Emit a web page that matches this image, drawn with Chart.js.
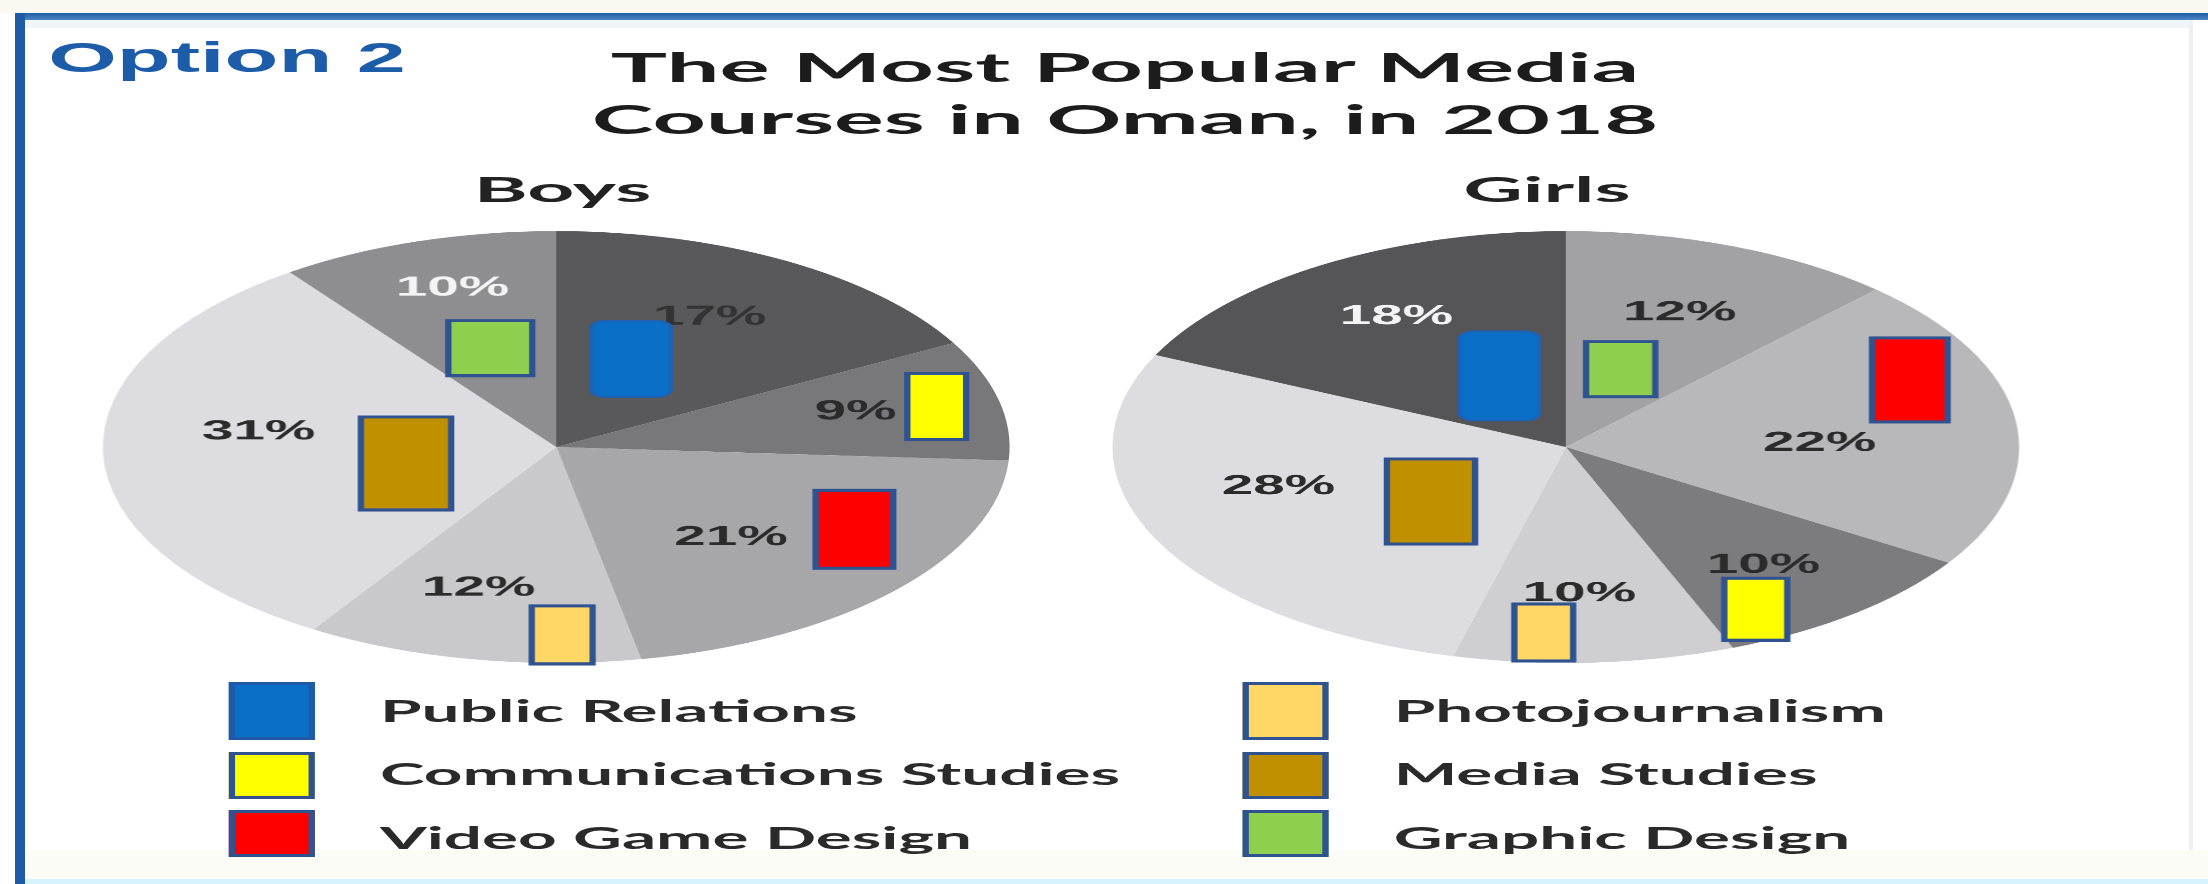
<!DOCTYPE html>
<html>
<head>
<meta charset="utf-8">
<script src="https://cdn.jsdelivr.net/npm/chart.js@4.4.1/dist/chart.umd.min.js"></script>
<style>
  html, body { margin: 0; padding: 0; background: #fff; }
  #page { position: relative; width: 2208px; height: 884px; overflow: hidden; background: #fff; }
  .deco { position: absolute; }
  /* the source picture is stretched sideways, so the whole drawing is too */
  #stage { position: absolute; left: 0; top: 0; width: 1052px; height: 884px;
           transform-origin: 0 0; transform: scaleX(2.0989);
           font-family: Lato, "Open Sans", sans-serif; color: #222; }
  .txt { position: absolute; white-space: nowrap; line-height: 1; font-weight: 700; }
  .mid { transform-origin: 50% 50%; }
  canvas { position: absolute; }
  .key { position: absolute; box-sizing: border-box; border: 3px solid #2f5290; }
</style>
</head>
<body>
<div id="page">
  <div class="deco" style="left:0;top:0;width:2208px;height:13px;background:#faf8f1"></div>
  <div class="deco" style="left:15px;top:13px;width:2193px;height:7px;background:linear-gradient(#1f5ca6,#4f86c2)"></div>
  <div class="deco" style="left:25px;top:20px;width:2165px;height:8px;background:#eef5fb"></div>
  <div class="deco" style="left:15px;top:13px;width:10px;height:871px;background:#1e5aa5"></div>
  <div class="deco" style="left:2189px;top:20px;width:4px;height:864px;background:#eef1f3"></div>
  <div class="deco" style="left:25px;top:850px;width:2183px;height:29px;background:#fcfcf7"></div>
  <div class="deco" style="left:25px;top:879px;width:2183px;height:5px;background:#d6f3fb"></div>

  <div id="stage">
    <div class="txt" style="left:23px;top:37px;font-family:'Liberation Sans',Arial,sans-serif;font-size:42px;color:#1c5ca8">Option 2</div>
    <div class="txt" style="left:536px;top:47px;font-size:40px;transform:translateX(-50%) scaleX(1.12);color:#1c1c1c">The Most Popular Media</div>
    <div class="txt" style="left:536px;top:99px;font-size:40px;transform:translateX(-50%) scaleX(1.11);color:#1c1c1c">Courses in Oman, in 2018</div>
    <div class="txt" style="left:268px;top:172px;font-size:34px;transform:translateX(-50%) scaleX(1.15);color:#222">Boys</div>
    <div class="txt" style="left:737px;top:172px;font-size:34px;transform:translateX(-50%) scaleX(1.15);color:#222">Girls</div>

    <canvas id="boysChart" width="460" height="460" style="left:35px;top:217px"></canvas>
    <canvas id="girlsChart" width="460" height="460" style="left:516px;top:217px"></canvas>

    <div id="legend"></div>
  </div>
</div>

<script>
// Most popular media courses in Oman, 2018 (percent of students)
const boysCourses = ["Public Relations", "Communications Studies", "Video Game Design",
                     "Photojournalism", "Media Studies", "Graphic Design"];
const boysShares = [17, 9, 21, 12, 31, 10];

const girlsCourses = ["Graphic Design", "Video Game Design", "Communications Studies",
                      "Photojournalism", "Media Studies", "Public Relations"];
const girlsShares = [12, 22, 10, 10, 28, 18];

const legendCourses = ["Public Relations", "Communications Studies", "Video Game Design",
                       "Photojournalism", "Media Studies", "Graphic Design"];

// colour key for each course
const courseColors = {
  "Public Relations": "#0a6fc6",
  "Communications Studies": "#ffff00",
  "Video Game Design": "#ff0000",
  "Photojournalism": "#ffd766",
  "Media Studies": "#c09000",
  "Graphic Design": "#8fcf50"
};

// grey slices, in slice order
const boysGreys = ["#59595c", "#78787b", "#a7a7aa", "#c9c9cc", "#dddce1", "#8e8e91"];
const girlsGreys = ["#a2a2a5", "#b8b8bb", "#7c7c7f", "#cfcfd2", "#dddce1", "#555558"];

// where the label and colour box sit inside each slice:
// [fraction across the slice angle, fraction of the radius]
const boysLabelPos = [[0.48, 0.69], [0.46, 0.68], [0.58, 0.57], [0.59, 0.675], [0.57, 0.66], [0.52, 0.77]];
const boysBoxPos = [[0.36, 0.44], [0.50, 0.86], [0.35, 0.76], [0.23, 0.87], [0.40, 0.34], [0.51, 0.48]];
const boysBoxSize = [[38, 76], [28, 66], [37, 78], [29, 58], [43, 93], [40, 55]];
const boysLabelColors = ["#333", "#2b2b2b", "#2b2b2b", "#2b2b2b", "#2b2b2b", "#f4f4f4"];

const girlsLabelPos = [[0.51, 0.67], [0.57, 0.56], [0.53, 0.70], [0.53, 0.68], [0.59, 0.66], [0.51, 0.71]];
const girlsBoxPos = [[0.43, 0.38], [0.31, 0.82], [0.79, 0.86], [0.69, 0.86], [0.35, 0.39], [0.63, 0.36]];
const girlsBoxSize = [[33, 55], [36, 84], [30, 62], [28, 57], [42, 85], [38, 89]];
const girlsLabelColors = ["#2b2b2b", "#2b2b2b", "#2b2b2b", "#2b2b2b", "#2b2b2b", "#f4f4f4"];

// draws the percent text and the coloured course box inside every slice
const sliceMarkers = {
  id: "sliceMarkers",
  afterDatasetsDraw(chart, args, opts) {
    const ctx = chart.ctx;
    const meta = chart.getDatasetMeta(0);
    const values = chart.data.datasets[0].data;
    const labels = chart.data.labels;

    meta.data.forEach((arc, i) => {
      const p = arc.getProps(["x", "y", "startAngle", "endAngle", "outerRadius"], true);
      const at = (pos) => {
        const a = p.startAngle + pos[0] * (p.endAngle - p.startAngle);
        const r = pos[1] * p.outerRadius;
        return [p.x + Math.cos(a) * r, p.y + Math.sin(a) * r];
      };

      ctx.save();
      ctx.font = "bold 27px 'Liberation Sans', Arial, sans-serif";
      ctx.textAlign = "center";
      ctx.textBaseline = "middle";
      ctx.fillStyle = opts.labelColors[i];
      const [lx, ly] = at(opts.labelPos[i]);
      ctx.fillText(values[i] + "%", lx, ly);

      const [bx, by] = at(opts.boxPos[i]);
      const [w, h] = opts.boxSize[i];
      const color = courseColors[labels[i]];
      ctx.beginPath();
      if (labels[i] === "Public Relations") {
        ctx.roundRect(bx - w / 2, by - h / 2, w, h, 7);
        ctx.fillStyle = color;
        ctx.fill();
        ctx.lineWidth = 2;
        ctx.strokeStyle = "#1f62b4";
        ctx.stroke();
      } else {
        ctx.rect(bx - w / 2, by - h / 2, w, h);
        ctx.fillStyle = color;
        ctx.fill();
        ctx.lineWidth = 3;
        ctx.strokeStyle = "#2f5290";
        ctx.stroke();
      }
      ctx.restore();
    });
  }
};

function makePie(id, courses, shares, greys, labelPos, boxPos, boxSize, labelColors) {
  const ctx = document.getElementById(id).getContext("2d");
  return new Chart(ctx, {
    type: "pie",
    data: {
      labels: courses,
      datasets: [{
        data: shares,
        backgroundColor: greys,
        borderWidth: 0
      }]
    },
    options: {
      responsive: false,
      animation: false,
      devicePixelRatio: 2.1,
      radius: 216,
      layout: { padding: 0 },
      plugins: {
        legend: { display: false },
        tooltip: { enabled: false },
        sliceMarkers: { labelPos, boxPos, boxSize, labelColors }
      }
    },
    plugins: [sliceMarkers]
  });
}

makePie("boysChart", boysCourses, boysShares, boysGreys,
        boysLabelPos, boysBoxPos, boysBoxSize, boysLabelColors);
makePie("girlsChart", girlsCourses, girlsShares, girlsGreys,
        girlsLabelPos, girlsBoxPos, girlsBoxSize, girlsLabelColors);

// two-column key under the pies
const legend = document.getElementById("legend");
const colX = [109, 592];
const textX = [181, 664];
const rowTop = [682, 752, 810];
const rowH = [58, 47, 47];
const rowBaseline = [722, 785, 849];
legendCourses.forEach((name, i) => {
  const col = Math.floor(i / 3), row = i % 3;
  const box = document.createElement("div");
  box.className = "key";
  box.style.left = colX[col] + "px";
  box.style.top = rowTop[row] + "px";
  box.style.width = "41px";
  box.style.height = rowH[row] + "px";
  box.style.background = courseColors[name];
  if (name === "Public Relations") box.style.borderColor = "#1f5aa8";
  legend.appendChild(box);

  const t = document.createElement("div");
  t.className = "txt";
  t.style.left = textX[col] + "px";
  t.style.fontSize = "30px";
  t.style.top = (rowBaseline[row] - 0.887 * 30) + "px";
  t.style.color = "#2a2a2a";
  t.style.transformOrigin = "0 50%";
  t.style.transform = "scaleX(1.07)";
  t.textContent = name;
  legend.appendChild(t);
});
</script>
</body>
</html>
